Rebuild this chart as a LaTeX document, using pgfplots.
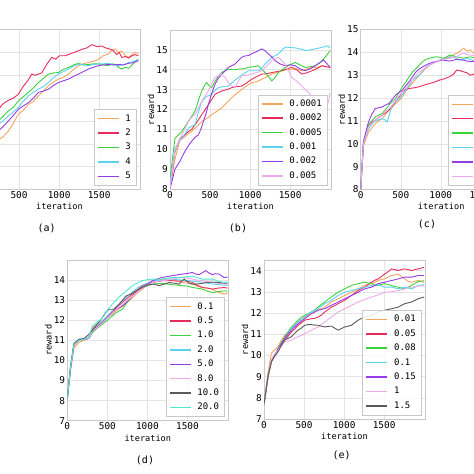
\documentclass[border=0pt]{standalone}
\usepackage{pgfplots}
\pgfplotsset{compat=1.18}
\usepackage{fontspec}
\setmainfont{DejaVu Sans Mono}
\definecolor{c1}{RGB}{245,165,95}
\definecolor{c2}{RGB}{230,45,90}
\definecolor{c3}{RGB}{60,210,60}
\definecolor{c4}{RGB}{90,210,240}
\definecolor{c5}{RGB}{150,60,230}
\definecolor{c6}{RGB}{240,170,235}
\definecolor{c7}{RGB}{90,90,90}
\definecolor{c8}{RGB}{80,230,210}
\definecolor{gridc}{RGB}{228,228,228}
\definecolor{framec}{RGB}{200,200,200}
\pgfplotsset{
  panel/.style={
    scale only axis, width=161pt, height=160pt,
    xmin=0, xmax=2010, xtick={0,500,1000,1500}, ytick distance=1,
    grid=major, major grid style={color=gridc, line width=0.5pt},
    axis line style={color=framec, line width=0.6pt},
    major tick length=0pt,
    tick label style={font=\fontsize{9.4}{10}\selectfont, inner sep=2pt},
    /pgf/number format/assume math mode=true,
    /pgf/number format/1000 sep={},
    xlabel=iteration, ylabel=reward,
    label style={font=\fontsize{8.6}{10}\selectfont},
    xlabel style={at={(axis description cs:0.5,-0.107)}, anchor=center},
    ylabel style={at={(axis description cs:-0.118,0.5)}, anchor=center},
    every axis plot/.append style={line width=0.9pt, no markers},
    legend cell align=left,
    legend image code/.code={\draw[##1, line width=1.5pt] (0pt,0pt) -- (21pt,0pt);},
    legend style={at={(0.975,0.025)}, anchor=south east, draw=framec, fill=white,
      fill opacity=0.85, text opacity=1, draw opacity=1,
      font=\fontsize{9}{10}\selectfont, inner sep=3pt, row sep=2.4pt,
      nodes={inner xsep=2pt, inner ysep=1.5pt, text height=7pt, text depth=2pt},
      /tikz/every odd column/.append style={column sep=4pt}},
  }
}
\begin{document}
\begin{tikzpicture}
% (a)
\begin{axis}[panel, at={(-21pt,284.5pt)}, anchor=south west, ymin=8, ymax=15]
\addplot[color=c1] coordinates {(0,8.0)(40,9.0)(100,9.6)(170,9.9)(242,10.17)(300,10.3)(367,10.56)(430,10.9)(492,11.3)(550,11.45)(617,11.73)(680,11.85)(742,12.1)(800,12.3)(867,12.54)(930,12.7)(992,12.83)(1050,12.9)(1117,13.05)(1180,13.25)(1242,13.42)(1300,13.5)(1367,13.56)(1430,13.6)(1492,13.7)(1550,13.85)(1617,13.93)(1660,14.1)(1700,14.15)(1740,14.0)(1783,14.05)(1830,13.85)(1867,13.78)(1910,13.9)(1950,14.0)(1990,13.95)};
\addplot[color=c2] coordinates {(0,8.0)(40,9.6)(100,10.3)(170,11.0)(242,11.5)(300,11.75)(367,11.9)(430,12.0)(492,12.17)(550,12.5)(617,12.8)(658,13.05)(700,13.0)(783,13.1)(850,13.5)(908,13.78)(960,13.7)(1000,13.85)(1075,13.85)(1150,13.95)(1242,14.07)(1300,14.15)(1350,14.2)(1408,14.34)(1470,14.25)(1530,14.28)(1575,14.2)(1630,14.15)(1679,14.07)(1720,13.9)(1750,14.0)(1783,13.78)(1830,13.82)(1867,13.75)(1910,13.85)(1950,13.9)(1990,13.85)};
\addplot[color=c3] coordinates {(0,8.0)(40,9.4)(100,10.1)(170,10.6)(242,11.0)(300,11.2)(367,11.44)(430,11.6)(492,11.88)(550,12.05)(617,12.25)(680,12.45)(742,12.68)(800,12.85)(867,13.05)(930,13.1)(992,13.12)(1050,13.25)(1117,13.34)(1180,13.45)(1242,13.52)(1300,13.45)(1367,13.47)(1430,13.5)(1492,13.5)(1550,13.45)(1617,13.42)(1660,13.5)(1700,13.47)(1740,13.35)(1783,13.27)(1830,13.35)(1867,13.3)(1910,13.45)(1950,13.6)(1990,13.7)};
\addplot[color=c4] coordinates {(0,8.0)(40,9.2)(100,9.9)(170,10.5)(242,10.86)(300,11.0)(367,11.22)(430,11.4)(492,11.59)(550,11.85)(617,12.1)(680,12.25)(742,12.39)(800,12.5)(867,12.68)(930,12.9)(992,13.05)(1050,13.15)(1117,13.27)(1180,13.4)(1242,13.49)(1300,13.45)(1367,13.42)(1430,13.47)(1492,13.49)(1550,13.5)(1617,13.52)(1680,13.45)(1742,13.42)(1800,13.45)(1867,13.55)(1930,13.6)(1990,13.7)};
\addplot[color=c5] coordinates {(0,8.0)(40,9.1)(100,9.7)(170,10.2)(242,10.56)(300,10.75)(367,11.0)(430,11.25)(492,11.51)(550,11.65)(617,11.8)(680,12.0)(742,12.25)(800,12.3)(867,12.39)(930,12.55)(992,12.68)(1050,12.75)(1117,12.83)(1180,12.95)(1242,13.05)(1300,13.15)(1367,13.27)(1430,13.35)(1492,13.42)(1550,13.45)(1617,13.47)(1680,13.45)(1742,13.47)(1800,13.45)(1867,13.52)(1930,13.55)(1990,13.63)};
\legend{1,2,3,4,5}
\end{axis}
% (b)
\begin{axis}[panel, at={(170pt,285pt)}, anchor=south west, height=159pt, ymin=8, ymax=16, ytick={8,...,15}]
\addplot[color=c1] coordinates {(0,8.0)(62,9.5)(125,10.47)(180,10.6)(229,10.8)(270,10.9)(312,11.06)(350,11.2)(396,11.4)(460,11.55)(521,11.74)(580,11.9)(646,12.08)(710,12.35)(771,12.59)(830,12.8)(896,13.01)(960,13.2)(1021,13.35)(1080,13.4)(1146,13.52)(1210,13.65)(1271,13.78)(1330,13.85)(1396,13.95)(1460,14.0)(1521,14.03)(1580,14.05)(1646,13.95)(1710,14.05)(1771,14.12)(1830,14.1)(1896,14.2)(1950,14.15)(2000,14.12)};
\addplot[color=c2] coordinates {(0,8.0)(62,9.87)(125,10.55)(180,10.7)(229,10.89)(270,11.0)(312,11.23)(350,11.45)(396,11.74)(440,12.0)(479,12.25)(520,12.5)(562,12.76)(600,12.85)(646,12.93)(710,13.0)(771,13.1)(830,13.15)(896,13.18)(960,13.35)(1021,13.52)(1080,13.65)(1146,13.78)(1210,13.8)(1271,13.86)(1330,13.9)(1396,13.95)(1460,14.05)(1521,14.12)(1580,14.0)(1646,13.78)(1710,13.85)(1771,13.95)(1830,14.05)(1896,14.2)(1950,14.15)(2000,14.12)};
\addplot[color=c3] coordinates {(0,8.5)(62,10.55)(100,10.7)(146,10.89)(190,11.15)(229,11.4)(270,11.65)(312,11.91)(350,12.4)(396,12.93)(430,13.2)(458,13.35)(490,13.2)(521,13.1)(560,13.4)(604,13.69)(660,13.9)(729,14.03)(790,14.0)(854,14.03)(920,14.05)(979,14.12)(1040,14.15)(1104,14.2)(1150,14.0)(1187,13.86)(1230,13.65)(1271,13.44)(1310,13.6)(1354,13.86)(1400,14.0)(1437,14.12)(1500,14.25)(1562,14.37)(1620,14.25)(1687,14.12)(1750,14.15)(1812,14.2)(1870,14.35)(1937,14.63)(1970,14.8)(2000,14.97)};
\addplot[color=c4] coordinates {(0,8.3)(62,10.04)(100,10.3)(146,10.55)(190,10.8)(229,11.06)(270,11.15)(312,11.23)(350,11.8)(396,12.42)(430,12.55)(458,12.67)(490,12.7)(521,12.76)(560,12.95)(604,13.1)(660,13.15)(729,13.18)(790,13.4)(854,13.61)(920,13.8)(979,13.95)(1040,13.95)(1104,13.95)(1150,14.1)(1187,14.29)(1230,14.45)(1271,14.63)(1310,14.7)(1354,14.8)(1400,15.0)(1437,15.14)(1500,15.12)(1562,15.1)(1620,15.05)(1687,14.97)(1750,15.0)(1812,15.05)(1870,15.1)(1937,15.17)(1970,15.2)(2000,15.1)};
\addplot[color=c5] coordinates {(0,8.0)(62,9.0)(125,9.4)(187,9.9)(250,10.3)(312,10.6)(354,10.72)(385,11.0)(417,11.4)(450,11.8)(479,12.25)(520,12.8)(562,13.27)(600,13.55)(646,13.78)(690,13.95)(729,14.12)(770,14.2)(812,14.29)(850,14.45)(896,14.63)(940,14.7)(979,14.71)(1020,14.8)(1062,14.88)(1100,14.95)(1146,15.05)(1190,14.95)(1229,14.8)(1270,14.65)(1312,14.46)(1370,14.3)(1437,14.2)(1500,14.25)(1562,14.2)(1620,14.05)(1687,13.95)(1750,14.05)(1812,14.2)(1870,14.35)(1917,14.49)(1960,14.3)(2000,14.12)};
\addplot[color=c6] coordinates {(0,8.0)(62,9.9)(100,10.3)(146,10.72)(190,11.05)(229,11.4)(270,11.6)(312,11.74)(350,12.05)(396,12.42)(440,12.7)(479,12.93)(520,13.3)(562,13.61)(600,13.7)(646,13.78)(690,13.6)(729,13.35)(770,13.2)(812,13.1)(850,13.4)(896,13.69)(960,13.72)(1021,13.78)(1080,13.85)(1146,13.95)(1210,14.2)(1271,14.46)(1310,14.55)(1354,14.63)(1400,14.45)(1437,14.29)(1480,13.95)(1521,13.61)(1560,13.5)(1604,13.35)(1640,13.2)(1687,13.01)(1730,12.85)(1771,12.67)(1810,12.45)(1854,12.25)(1890,12.0)(1917,11.74)(1940,11.9)(1958,12.08)(1980,12.45)(2000,12.84)};
\legend{0.0001,0.0002,0.0005,0.001,0.002,0.005}
\end{axis}
% (c)
\begin{axis}[panel, at={(360.7pt,284.5pt)}, anchor=south west, ymin=8, ymax=15]
\addplot[color=c1] coordinates {(0,8.0)(34,9.9)(97,10.51)(140,10.7)(182,10.88)(225,11.0)(267,11.1)(310,11.3)(352,11.47)(394,11.6)(436,11.76)(480,11.9)(521,12.06)(564,12.3)(606,12.5)(670,12.75)(733,13.0)(800,13.25)(860,13.44)(920,13.55)(987,13.66)(1050,13.75)(1114,13.81)(1160,13.9)(1199,13.96)(1240,14.05)(1284,14.18)(1330,14.05)(1369,14.1)(1410,13.95)(1441,13.81)(1500,13.85)(1550,13.9)(1620,13.8)(1700,13.8)(1780,13.75)(1850,13.75)(1920,13.8)(2000,13.8)};
\addplot[color=c2] coordinates {(0,8.0)(34,10.0)(97,10.81)(140,10.95)(182,11.03)(225,11.15)(267,11.25)(310,11.35)(352,11.47)(394,11.65)(436,11.84)(480,12.05)(521,12.28)(564,12.38)(606,12.42)(670,12.45)(733,12.5)(800,12.58)(860,12.64)(920,12.7)(987,12.79)(1050,12.85)(1114,12.94)(1160,13.05)(1199,13.23)(1240,13.2)(1284,13.15)(1330,13.1)(1369,13.0)(1410,13.05)(1441,13.03)(1500,13.05)(1550,13.1)(1620,13.05)(1700,13.1)(1780,13.15)(1850,13.15)(1920,13.2)(2000,13.2)};
\addplot[color=c3] coordinates {(0,8.0)(34,10.1)(97,10.81)(140,11.0)(182,11.18)(225,11.25)(267,11.32)(310,11.5)(352,11.69)(394,11.85)(436,11.98)(480,12.25)(521,12.5)(564,12.7)(606,12.94)(650,13.15)(691,13.3)(733,13.45)(775,13.6)(818,13.7)(860,13.74)(900,13.78)(945,13.81)(990,13.78)(1030,13.74)(1070,13.8)(1114,13.88)(1160,13.85)(1199,13.8)(1240,13.78)(1284,13.74)(1330,13.78)(1369,13.8)(1410,13.77)(1441,13.74)(1500,13.7)(1550,13.72)(1620,13.7)(1700,13.75)(1780,13.72)(1850,13.7)(1920,13.72)(2000,13.72)};
\addplot[color=c4] coordinates {(0,8.0)(34,10.0)(97,10.66)(140,10.85)(182,11.0)(225,11.05)(267,11.1)(300,11.05)(330,10.95)(360,11.3)(394,11.69)(436,11.85)(479,11.98)(521,12.15)(564,12.35)(606,12.55)(648,12.79)(690,12.9)(733,13.0)(775,13.2)(818,13.37)(860,13.45)(902,13.52)(945,13.6)(987,13.66)(1030,13.7)(1072,13.74)(1114,13.78)(1157,13.81)(1199,13.72)(1241,13.66)(1284,13.7)(1326,13.74)(1380,13.68)(1441,13.6)(1500,13.62)(1550,13.65)(1620,13.62)(1700,13.6)(1780,13.62)(1850,13.65)(1920,13.62)(2000,13.6)};
\addplot[color=c5] coordinates {(0,8.0)(34,10.1)(97,10.95)(140,11.3)(182,11.54)(225,11.58)(267,11.61)(310,11.7)(352,11.76)(394,11.95)(436,12.13)(480,12.25)(521,12.35)(564,12.55)(606,12.72)(650,12.95)(691,13.15)(733,13.28)(775,13.37)(818,13.45)(860,13.52)(900,13.57)(945,13.6)(990,13.64)(1030,13.66)(1070,13.64)(1114,13.62)(1160,13.66)(1199,13.7)(1240,13.68)(1284,13.66)(1330,13.62)(1369,13.6)(1441,13.6)(1500,13.62)(1550,13.6)(1620,13.62)(1700,13.6)(1780,13.6)(1850,13.62)(1920,13.6)(2000,13.6)};
\addplot[color=c6] coordinates {(0,8.0)(34,10.0)(97,10.73)(140,10.9)(182,11.03)(225,11.15)(267,11.25)(310,11.4)(352,11.54)(394,11.7)(436,11.9)(480,12.1)(521,12.28)(564,12.45)(606,12.64)(670,12.9)(733,13.15)(800,13.3)(860,13.44)(920,13.55)(987,13.66)(1050,13.7)(1114,13.74)(1160,13.78)(1199,13.81)(1240,13.9)(1284,13.96)(1330,13.9)(1369,13.88)(1410,13.85)(1441,13.81)(1500,13.8)(1550,13.82)(1620,13.78)(1700,13.75)(1780,13.78)(1850,13.8)(1920,13.78)(2000,13.75)};
\legend{0.0001,0.0002,0.0005,0.0010,0.0020,0.0050}
\end{axis}
% (d)
\begin{axis}[panel, at={(67.3pt,53.3pt)}, anchor=south west, height=160.7pt, ymin=7, ymax=15, ytick={7,...,14}]
\addplot[color=c1] coordinates {(0,8.1)(40,9.5)(83,10.6)(146,10.9)(210,11.0)(271,11.1)(312,11.63)(370,11.8)(437,11.97)(500,12.15)(562,12.3)(620,12.5)(687,12.7)(750,12.9)(812,13.1)(870,13.35)(937,13.55)(1000,13.75)(1062,13.9)(1120,14.0)(1187,14.05)(1250,14.05)(1312,14.05)(1370,13.95)(1437,13.88)(1500,13.85)(1562,13.8)(1620,13.7)(1687,13.63)(1750,13.6)(1812,13.55)(1880,13.4)(1958,13.3)(2000,13.35)};
\addplot[color=c2] coordinates {(0,8.1)(40,9.6)(83,10.75)(146,11.0)(210,11.05)(271,11.1)(312,11.5)(370,11.7)(437,11.9)(500,12.15)(562,12.4)(620,12.65)(687,12.9)(750,13.1)(812,13.3)(870,13.5)(937,13.72)(1000,13.8)(1062,13.88)(1120,13.92)(1187,13.97)(1250,13.97)(1312,13.97)(1370,13.95)(1437,13.97)(1500,13.95)(1562,13.88)(1620,13.75)(1687,13.63)(1750,13.6)(1812,13.55)(1880,13.6)(1958,13.63)(2000,13.6)};
\addplot[color=c3] coordinates {(0,8.1)(40,9.6)(83,10.8)(146,11.0)(210,11.05)(271,11.1)(312,11.38)(370,11.6)(437,11.8)(500,12.0)(562,12.22)(620,12.4)(687,12.55)(750,12.9)(812,13.21)(870,13.45)(937,13.63)(1000,13.72)(1062,13.8)(1120,13.82)(1187,13.83)(1250,13.8)(1312,13.77)(1370,13.75)(1437,13.72)(1500,13.7)(1562,13.63)(1620,13.6)(1687,13.55)(1750,13.45)(1812,13.38)(1880,13.42)(1958,13.46)(2000,13.45)};
\addplot[color=c4] coordinates {(0,8.1)(40,9.6)(83,10.8)(146,11.0)(210,11.05)(271,11.15)(312,11.55)(370,11.75)(437,11.95)(500,12.2)(562,12.5)(620,12.7)(687,12.95)(750,13.2)(812,13.4)(870,13.6)(937,13.75)(1000,13.85)(1062,13.95)(1120,13.98)(1187,14.0)(1250,14.02)(1312,14.05)(1370,14.02)(1437,14.0)(1500,13.97)(1562,13.95)(1620,13.92)(1687,13.9)(1750,13.85)(1812,13.8)(1880,13.78)(1958,13.75)(2000,13.75)};
\addplot[color=c5] coordinates {(0,8.1)(40,9.6)(83,10.8)(146,11.05)(210,11.05)(271,11.1)(312,11.46)(370,11.65)(437,11.88)(500,12.15)(562,12.38)(620,12.55)(687,12.71)(750,12.95)(812,13.21)(870,13.45)(937,13.63)(1000,13.8)(1062,13.97)(1120,14.05)(1187,14.13)(1250,14.18)(1312,14.22)(1370,14.26)(1437,14.3)(1500,14.33)(1562,14.38)(1600,14.3)(1646,14.27)(1690,14.38)(1729,14.47)(1770,14.35)(1812,14.27)(1850,14.32)(1896,14.3)(1930,14.2)(1958,14.13)(2000,14.15)};
\addplot[color=c6] coordinates {(0,8.1)(40,9.6)(83,10.75)(146,11.0)(210,11.05)(271,11.1)(312,11.45)(370,11.65)(437,11.85)(500,12.1)(562,12.35)(620,12.55)(687,12.8)(750,13.0)(812,13.2)(870,13.4)(937,13.6)(1000,13.75)(1062,13.88)(1120,13.93)(1187,13.97)(1250,14.0)(1312,14.05)(1370,14.1)(1437,14.13)(1500,14.1)(1562,14.05)(1620,14.0)(1687,13.97)(1750,13.92)(1812,13.88)(1880,13.85)(1958,13.8)(2000,13.8)};
\addplot[color=c7] coordinates {(0,8.1)(40,9.7)(83,10.85)(146,11.05)(210,11.1)(271,11.3)(350,11.7)(400,11.95)(437,12.13)(480,12.4)(521,12.55)(583,12.55)(646,12.8)(690,13.0)(729,13.2)(790,13.3)(854,13.46)(920,13.6)(979,13.72)(1030,13.78)(1083,13.8)(1146,13.72)(1210,13.8)(1271,13.88)(1330,13.85)(1396,13.8)(1430,13.95)(1460,14.05)(1490,13.95)(1520,13.85)(1560,13.8)(1600,13.8)(1650,13.82)(1700,13.85)(1750,13.88)(1800,13.9)(1880,13.88)(1958,13.85)(2000,13.85)};
\addplot[color=c8] coordinates {(0,8.1)(40,9.65)(83,10.8)(146,11.0)(210,11.05)(271,11.2)(312,11.7)(370,11.9)(437,12.1)(500,12.5)(562,12.8)(620,13.05)(687,13.3)(750,13.5)(812,13.72)(870,13.85)(937,13.97)(1000,14.02)(1062,14.05)(1120,14.05)(1187,14.05)(1250,14.1)(1312,14.13)(1370,14.13)(1437,14.13)(1500,14.17)(1562,14.2)(1620,14.12)(1687,14.05)(1750,14.05)(1812,14.05)(1880,13.95)(1958,13.88)(2000,13.9)};
\legend{0.1,0.5,1.0,2.0,5.0,8.0,10.0,20.0}
\end{axis}
% (e)
\begin{axis}[panel, at={(264pt,55pt)}, anchor=south west, height=159pt, ymin=7, ymax=14.5, ytick={7,...,14}]
\addplot[color=c1] coordinates {(0,7.7)(50,9.2)(92,10.1)(130,10.25)(175,10.4)(215,10.7)(258,10.95)(300,11.1)(342,11.27)(385,11.45)(425,11.58)(470,11.7)(508,11.81)(550,11.9)(592,11.97)(635,12.05)(675,12.13)(715,12.2)(758,12.28)(800,12.4)(842,12.52)(885,12.6)(925,12.67)(965,12.75)(1008,12.83)(1050,12.9)(1092,12.98)(1135,13.05)(1175,13.14)(1215,13.22)(1258,13.3)(1300,13.35)(1342,13.38)(1385,13.45)(1425,13.53)(1465,13.58)(1508,13.61)(1550,13.7)(1592,13.77)(1635,13.8)(1675,13.84)(1715,13.72)(1758,13.61)(1800,13.5)(1842,13.45)(1885,13.5)(1925,13.53)(1965,13.5)(2000,13.45)};
\addplot[color=c2] coordinates {(0,7.7)(50,9.0)(92,9.7)(130,9.95)(175,10.25)(215,10.5)(258,10.72)(300,10.9)(342,11.11)(385,11.25)(425,11.42)(470,11.55)(508,11.66)(550,11.7)(592,11.73)(635,11.75)(675,11.81)(715,11.9)(758,12.05)(800,12.15)(842,12.28)(885,12.35)(925,12.44)(965,12.52)(1008,12.6)(1050,12.72)(1092,12.83)(1135,12.95)(1175,13.06)(1215,13.15)(1258,13.22)(1300,13.35)(1342,13.45)(1385,13.55)(1425,13.61)(1465,13.72)(1508,13.84)(1550,13.95)(1592,14.08)(1635,14.05)(1675,14.0)(1715,14.05)(1758,14.08)(1800,14.05)(1842,14.0)(1885,14.05)(1925,14.08)(1965,14.12)(2000,14.16)};
\addplot[color=c3] coordinates {(0,7.7)(50,9.0)(92,9.7)(130,10.0)(175,10.33)(215,10.6)(258,10.88)(300,11.1)(342,11.34)(385,11.5)(425,11.66)(470,11.8)(508,11.89)(550,11.97)(592,12.05)(635,12.15)(675,12.28)(715,12.4)(758,12.52)(800,12.65)(842,12.75)(885,12.88)(925,12.98)(965,13.05)(1008,13.14)(1050,13.22)(1092,13.3)(1135,13.35)(1175,13.38)(1215,13.42)(1258,13.45)(1300,13.42)(1342,13.38)(1385,13.34)(1425,13.3)(1465,13.35)(1508,13.38)(1550,13.34)(1592,13.3)(1635,13.25)(1675,13.22)(1715,13.18)(1758,13.14)(1800,13.22)(1842,13.3)(1885,13.4)(1925,13.48)(1965,13.5)(2000,13.52)};
\addplot[color=c4] coordinates {(0,7.7)(50,9.0)(92,9.75)(130,10.0)(175,10.3)(215,10.55)(258,10.8)(300,11.05)(342,11.27)(385,11.45)(425,11.58)(470,11.7)(508,11.81)(550,11.95)(592,12.05)(635,12.12)(675,12.2)(715,12.32)(758,12.44)(800,12.52)(842,12.6)(885,12.72)(925,12.83)(965,12.9)(1008,12.98)(1050,13.02)(1092,13.06)(1135,13.1)(1175,13.14)(1215,13.18)(1258,13.22)(1300,13.26)(1342,13.3)(1385,13.32)(1425,13.33)(1465,13.28)(1508,13.22)(1550,13.22)(1592,13.22)(1635,13.18)(1675,13.14)(1715,13.18)(1758,13.22)(1800,13.18)(1842,13.14)(1885,13.22)(1925,13.3)(1965,13.32)(2000,13.33)};
\addplot[color=c5] coordinates {(0,7.7)(50,9.0)(92,9.75)(130,10.0)(175,10.3)(215,10.55)(258,10.8)(300,11.0)(342,11.19)(385,11.35)(425,11.5)(470,11.62)(508,11.73)(550,11.85)(592,11.97)(635,12.05)(675,12.13)(715,12.17)(758,12.2)(800,12.28)(842,12.36)(885,12.44)(925,12.52)(965,12.6)(1008,12.67)(1050,12.75)(1092,12.83)(1135,12.9)(1175,12.98)(1215,13.06)(1258,13.14)(1300,13.18)(1342,13.22)(1385,13.3)(1425,13.38)(1465,13.42)(1508,13.45)(1550,13.5)(1592,13.53)(1635,13.57)(1675,13.61)(1715,13.65)(1758,13.69)(1800,13.69)(1842,13.69)(1885,13.73)(1925,13.77)(1965,13.77)(2000,13.77)};
\addplot[color=c6] coordinates {(0,7.7)(50,9.0)(92,9.8)(130,10.05)(175,10.25)(215,10.45)(258,10.64)(300,10.68)(342,10.72)(385,10.8)(425,10.88)(470,10.95)(508,11.03)(550,11.1)(592,11.19)(635,11.27)(675,11.34)(715,11.45)(758,11.58)(800,11.7)(842,11.81)(885,11.93)(925,12.05)(965,12.12)(1008,12.2)(1050,12.28)(1092,12.36)(1135,12.44)(1175,12.52)(1215,12.58)(1258,12.64)(1300,12.7)(1342,12.75)(1385,12.8)(1425,12.86)(1465,12.92)(1508,12.98)(1550,12.99)(1592,13.0)(1635,13.03)(1675,13.06)(1715,13.1)(1758,13.14)(1800,13.18)(1842,13.22)(1885,13.25)(1925,13.27)(1965,13.28)(2000,13.3)};
\addplot[color=c7] coordinates {(0,7.7)(50,9.0)(92,9.7)(130,9.95)(175,10.17)(215,10.45)(258,10.72)(300,10.8)(342,10.88)(385,11.05)(425,11.19)(470,11.3)(508,11.42)(550,11.45)(592,11.45)(635,11.43)(675,11.42)(715,11.38)(758,11.34)(800,11.37)(842,11.38)(885,11.28)(925,11.19)(965,11.26)(1008,11.34)(1050,11.38)(1092,11.42)(1135,11.55)(1175,11.66)(1215,11.74)(1258,11.81)(1300,11.85)(1342,11.89)(1385,11.97)(1425,12.05)(1465,12.09)(1508,12.13)(1550,12.17)(1592,12.2)(1635,12.24)(1675,12.28)(1715,12.36)(1758,12.44)(1800,12.48)(1842,12.52)(1885,12.6)(1925,12.67)(1965,12.72)(2000,12.75)};
\legend{0.01,0.05,0.08,0.1,0.15,1,1.5}
\end{axis}
\node[font=\fontsize{10}{12}\selectfont] at (46.7pt,246pt) {(a)};
\node[font=\fontsize{10}{12}\selectfont] at (238pt,246pt) {(b)};
\node[font=\fontsize{10}{12}\selectfont] at (427pt,250pt) {(c)};
\node[font=\fontsize{10}{12}\selectfont] at (145pt,14pt) {(d)};
\node[font=\fontsize{10}{12}\selectfont] at (341.7pt,19pt) {(e)};
\pgfresetboundingbox
\path[use as bounding box] (0pt,0pt) rectangle (474pt,474pt);
\end{tikzpicture}
\end{document}
